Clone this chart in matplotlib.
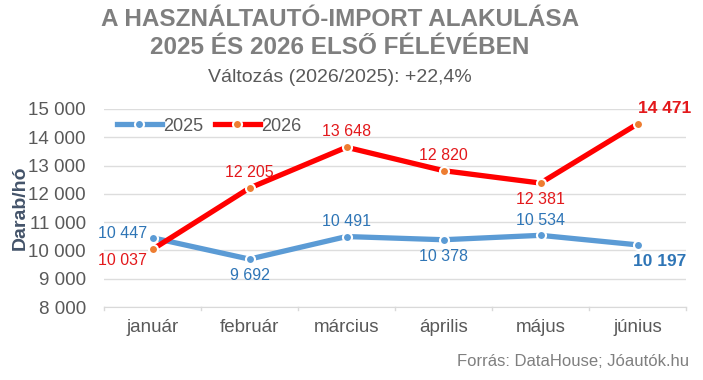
import matplotlib
matplotlib.use('Agg')
import matplotlib.pyplot as plt

plt.rcParams['font.family'] = ['Liberation Sans', 'DejaVu Sans']

months = ['január', 'február', 'március', 'április', 'május', 'június']
sales_2025 = [10447, 9692, 10491, 10378, 10534, 10197]
sales_2026 = [10037, 12205, 13648, 12820, 12381, 14471]
yticks = [8000, 9000, 10000, 11000, 12000, 13000, 14000, 15000]

# label placement relative to the marker
pos_2025 = ['left-up', 'down', 'up', 'down', 'up', 'last-down']
pos_2026 = ['left-down', 'up', 'up', 'up', 'down', 'last-up']

BLUE = '#5B9BD5'
BLUE_TXT = '#2E75B6'
RED = '#FF0000'
RED_TXT = '#E3191C'
ORANGE = '#ED7D31'
GRAY = '#595959'


def fmt(v):
    return f'{v:,}'.replace(',', ' ')


fig = plt.figure(figsize=(7.03, 3.8), dpi=100)
ax = fig.add_axes([104 / 703, 1 - 307 / 380, 582 / 703, 198 / 380])

x = list(range(len(months)))
ax.plot(x, sales_2025, color=BLUE, lw=3.8, marker='o', ms=6.5,
        mfc=BLUE, mec='white', mew=1.5, label='2025', zorder=3)
ax.plot(x, sales_2026, color=RED, lw=3.8, marker='o', ms=6.5,
        mfc=ORANGE, mec='white', mew=1.5, label='2026', zorder=4)

# (dx, dy) in points, ha
offsets = {
    'up': (0, 11, 'center'),
    'down': (0, -12, 'center'),
    'left-up': (-4, 3, 'right'),
    'left-down': (-4, -8, 'right'),
    'last-up': (0, 11, 'left'),
    'last-down': (16, -12, 'center'),
}

for series, positions, color in [(sales_2025, pos_2025, BLUE_TXT),
                                 (sales_2026, pos_2026, RED_TXT)]:
    for i, (v, p) in enumerate(zip(series, positions)):
        dx, dy, ha = offsets[p]
        last = p.startswith('last')
        ax.annotate(fmt(v), xy=(i, v), xytext=(dx, dy),
                    textcoords='offset points', ha=ha, va='center',
                    color=color, fontsize=12.5 if last else 11.5,
                    fontweight='bold' if last else 'normal', zorder=6)

ax.set_xlim(-0.5, len(months) - 0.5)
ax.set_ylim(8000, 15000)
ax.set_yticks(yticks)
ax.set_yticklabels([fmt(t) for t in yticks], fontsize=13.5, color=GRAY)
ax.set_xticks(x)
ax.set_xticklabels(months, fontsize=13.5, color=GRAY)
ax.tick_params(axis='y', length=0, pad=13)
ax.tick_params(axis='x', length=0, pad=9)

# category boundary ticks on the base line
for b in [i - 0.5 for i in range(len(months) + 1)]:
    ax.plot([b, b], [8000, 7900], color='#D9D9D9', lw=1, clip_on=False)

ax.grid(axis='y', color='#DDDDDD', lw=1)
ax.set_axisbelow(True)
for s in ['top', 'right', 'left']:
    ax.spines[s].set_visible(False)
ax.spines['bottom'].set_color('#D9D9D9')

ax.set_ylabel('Darab/hó', fontsize=14, fontweight='bold', color='#44546A',
              labelpad=0)

leg = ax.legend(loc='upper left', bbox_to_anchor=(0.0, 1.02), ncol=2,
                frameon=False, fontsize=13, handlelength=2.5,
                columnspacing=0.6, handletextpad=0.1,
                borderaxespad=0.3)
for t in leg.get_texts():
    t.set_color(GRAY)

fig.text(340 / 703, 1 - 20 / 380, 'A HASZNÁLTAUTÓ-IMPORT ALAKULÁSA',
         ha='center', va='center', fontsize=17.5, fontweight='bold',
         color='#7F7F7F')
fig.text(340 / 703, 1 - 48 / 380, '2025 ÉS 2026 ELSŐ FÉLÉVÉBEN',
         ha='center', va='center', fontsize=17.5, fontweight='bold',
         color='#7F7F7F')
fig.text(340 / 703, 1 - 77 / 380, 'Változás (2026/2025): +22,4%',
         ha='center', va='center', fontsize=14, color=GRAY)
fig.text(689 / 703, 1 - 362 / 380, 'Forrás: DataHouse; Jóautók.hu',
         ha='right', va='center', fontsize=12, color='#7F7F7F')

fig.savefig('out.png', dpi=100)
